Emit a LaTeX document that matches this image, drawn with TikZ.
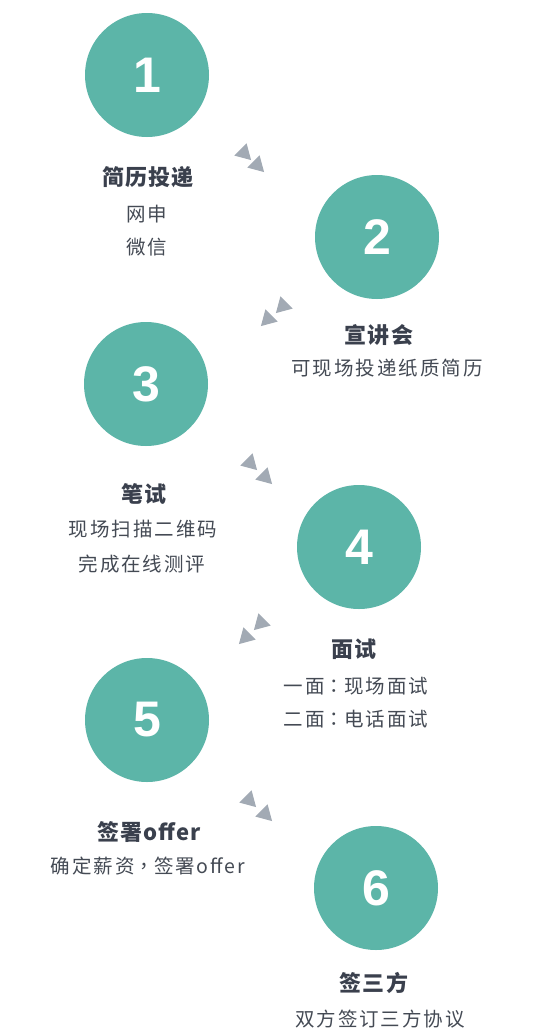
\documentclass[tikz,border=0pt]{standalone}
\usepackage{fontspec}
\usetikzlibrary{shapes.geometric,positioning}
\newfontfamily\cjk{Noto Sans CJK SC}
\newfontfamily\cjkpunct{Noto Sans CJK TC}
\newfontfamily\numfont{Liberation Sans}
\newcommand\midpunct[1]{{\cjkpunct\addfontfeature{LetterSpace=10}#1}}
\definecolor{stepteal}{HTML}{5CB5A8}
\definecolor{tipgray}{HTML}{A2AAB4}
\definecolor{titlegray}{HTML}{3A404D}
\definecolor{notegray}{HTML}{444A54}
\tikzset{
  stepcircle/.style={circle, fill=stepteal, minimum size=124pt, inner sep=0pt, text=white,
    font=\numfont\bfseries\fontsize{50pt}{50pt}\selectfont},
  steptitle/.style={inner sep=0pt, text=titlegray,
    font=\cjk\bfseries\fontsize{22pt}{26pt}\selectfont\addfontfeature{LetterSpace=5}},
  stepnote/.style={inner sep=0pt, text=notegray,
    font=\cjk\fontsize{19.5pt}{24pt}\selectfont\addfontfeature{LetterSpace=10}},
  flowtip/.style={regular polygon, regular polygon sides=3, fill=tipgray, minimum size=20pt, inner sep=0pt}
}
\begin{document}
\begin{tikzpicture}[x=1pt,y=-1pt]
    \fill[white] (0,0) rectangle (550,1036);
    % steps
    \node(c1) [stepcircle] at (147,75) {1};
    \node(c2) [stepcircle] at (377,237) {2};
    \node(c3) [stepcircle] at (146,384) {3};
    \node(c4) [stepcircle] at (359,547) {4};
    \node(c5) [stepcircle] at (147,720) {5};
    \node(c6) [stepcircle] at (376,888) {6};
    % texts
    \node(t1) [steptitle] at (148,177) {简历投递};
    \node(n1a) [stepnote] at (147,214) {网申};
    \node(n1b) [stepnote] at (147,247) {微信};
    \node(t2) [steptitle] at (379,335) {宣讲会};
    \node(n2a) [stepnote] at (387,368) {可现场投递纸质简历};
    \node(t3) [steptitle] at (144,494) {笔试};
    \node(n3a) [stepnote] at (143,529) {现场扫描二维码};
    \node(n3b) [stepnote] at (142,564) {完成在线测评};
    \node(t4) [steptitle] at (354,649) {面试};
    \node(n4a) [stepnote] at (356,686) {一面\midpunct{：}现场面试};
    \node(n4b) [stepnote] at (356,719) {二面\midpunct{：}电话面试};
    \node(t5) [steptitle] at (149,832) {签署offer};
    \node(n5a) [stepnote] at (148,866) {确定薪资\midpunct{，}签署offer};
    \node(t6) [steptitle] at (374,983) {签三方};
    \node(n6a) [stepnote] at (380,1019) {双方签订三方协议};
    % flow tips
    \node(a1) [flowtip, rotate=-135] at (244,153) {};
    \node(b1) [flowtip, rotate=-135] at (257,165) {};
    \node(a2) [flowtip, rotate=135] at (283,306) {};
    \node(b2) [flowtip, rotate=135] at (268,319) {};
    \node(a3) [flowtip, rotate=-135] at (250,463) {};
    \node(b3) [flowtip, rotate=-135] at (265,477) {};
    \node(a4) [flowtip, rotate=135] at (261,623) {};
    \node(b4) [flowtip, rotate=135] at (246,637) {};
    \node(a5) [flowtip, rotate=-135] at (249,800) {};
    \node(b5) [flowtip, rotate=-135] at (265,814) {};
\end{tikzpicture}
\end{document}
